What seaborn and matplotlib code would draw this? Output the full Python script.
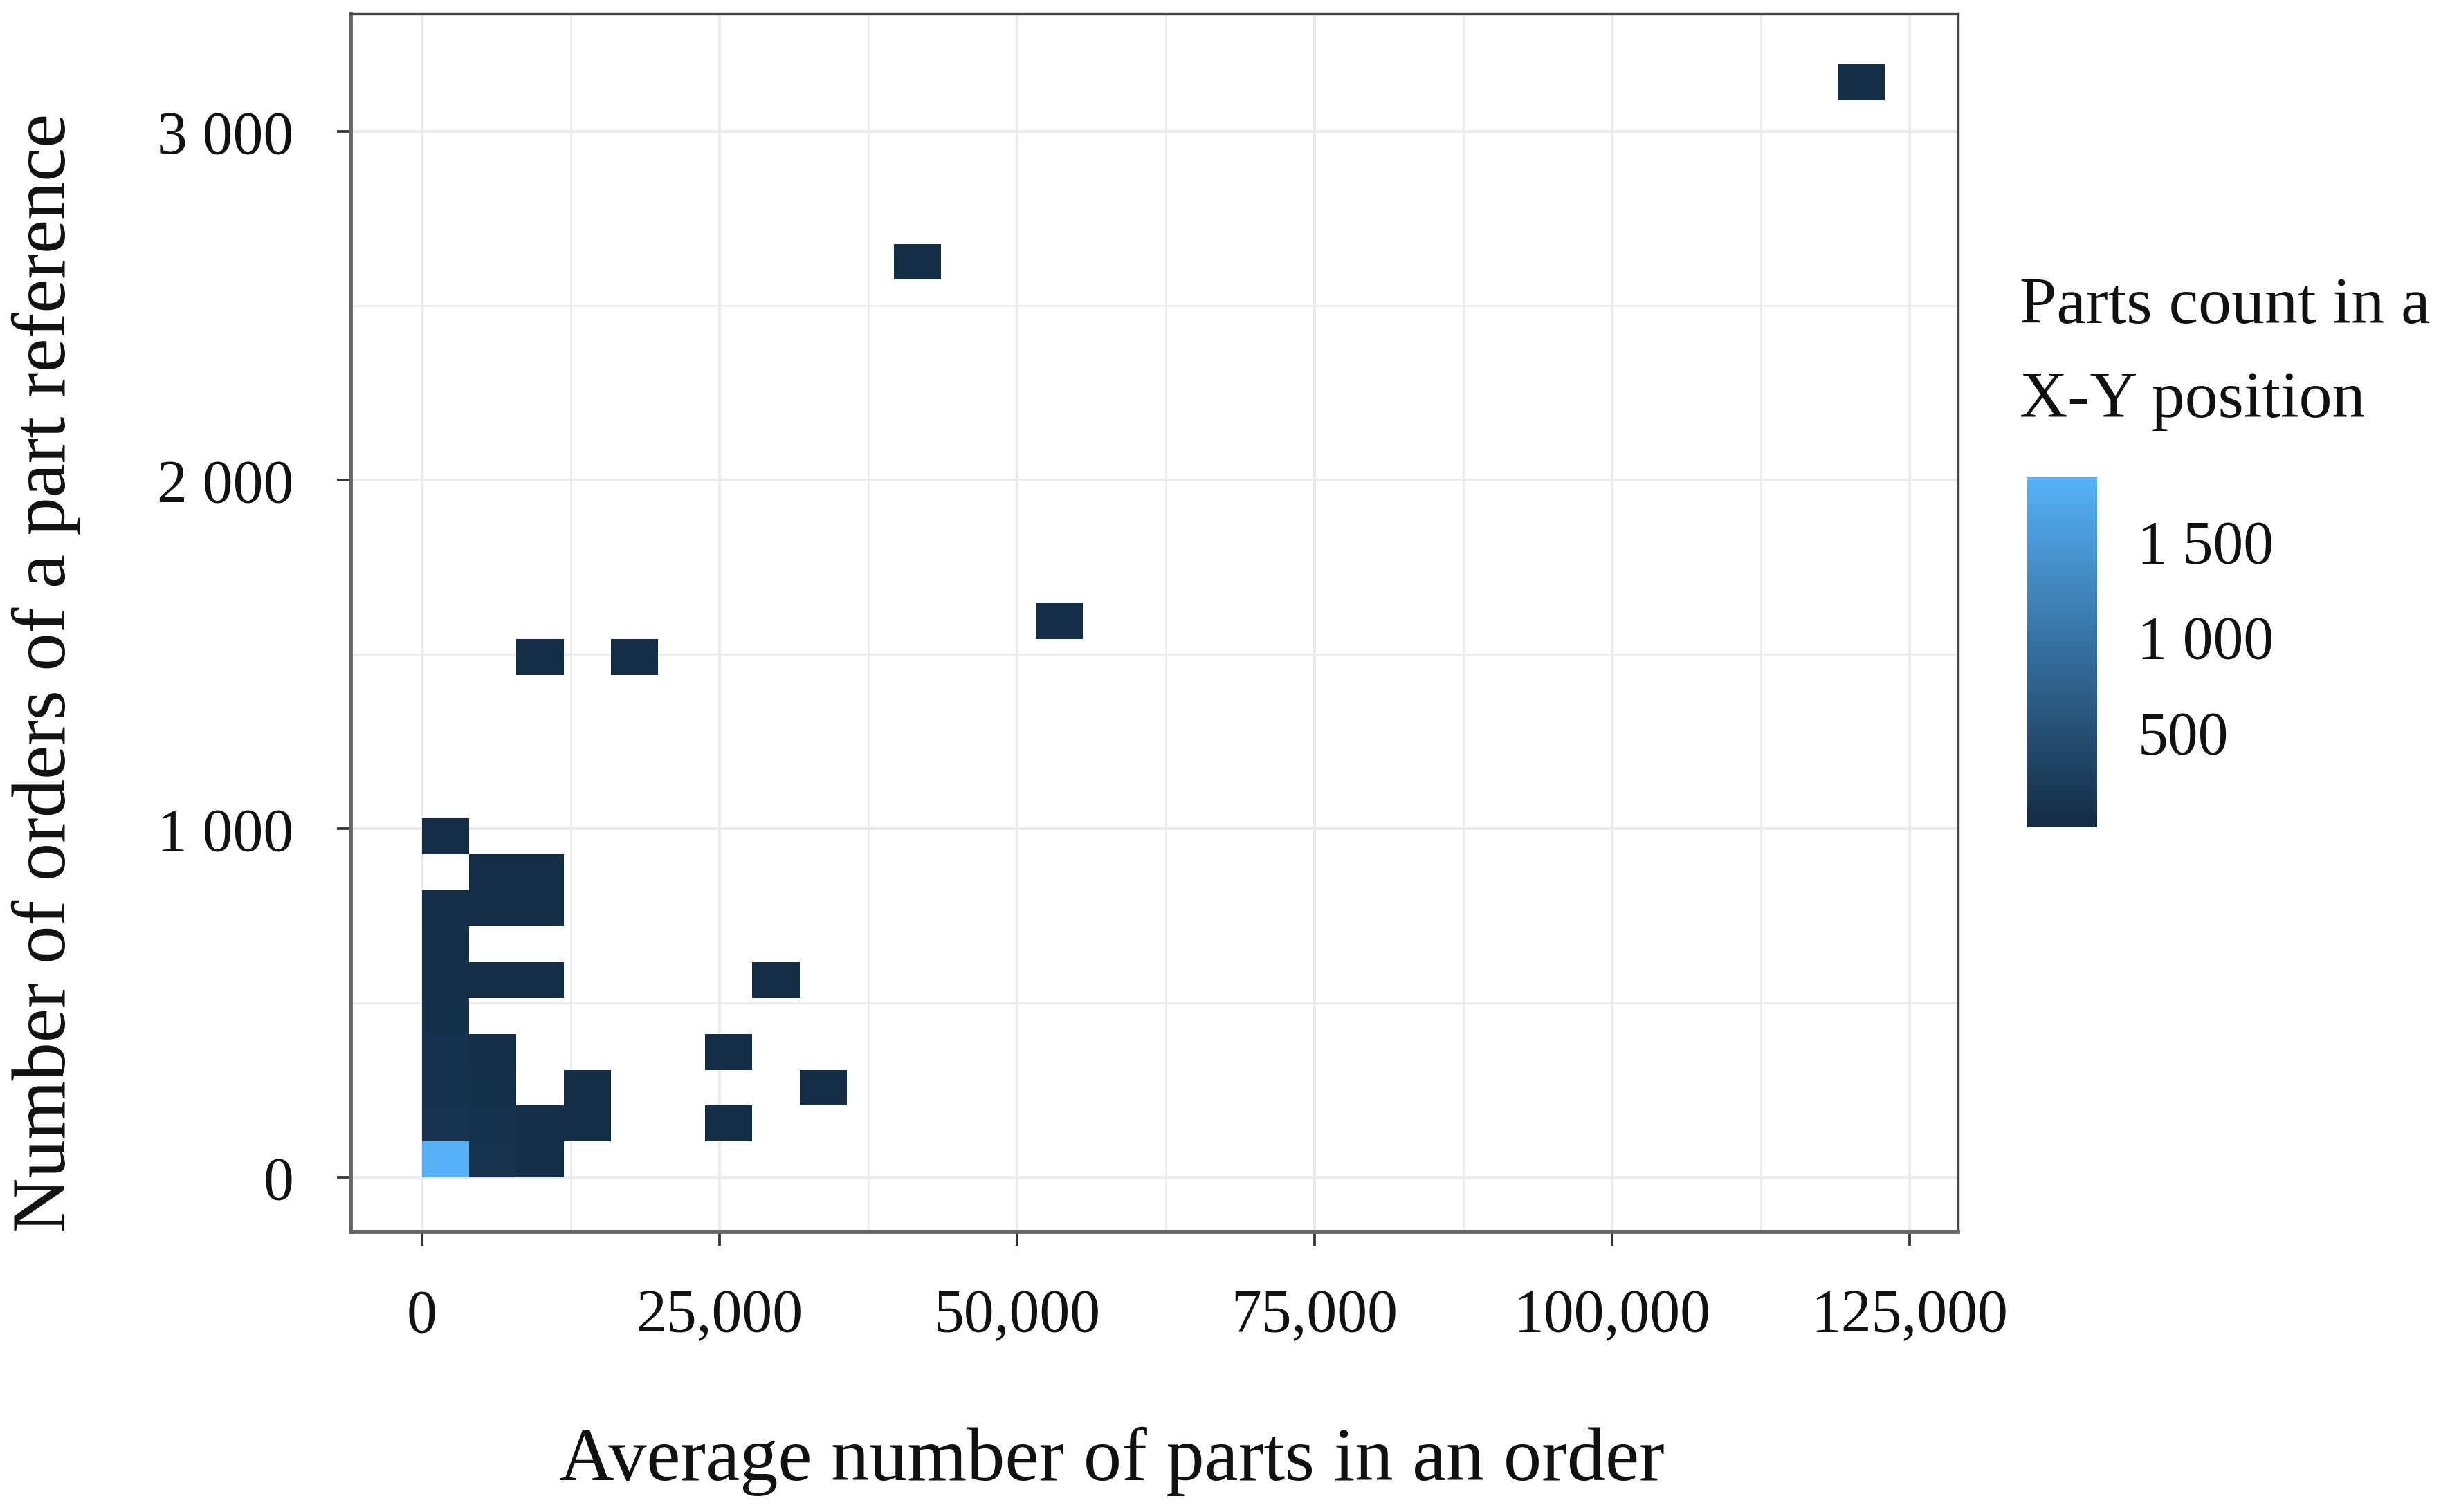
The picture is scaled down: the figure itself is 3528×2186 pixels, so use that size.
import numpy as np
import matplotlib.pyplot as plt
import seaborn as sns
from matplotlib.colors import LinearSegmentedColormap
from matplotlib.ticker import MultipleLocator

# Valores: cada celda = (promedio de piezas, numero de pedidos, conteo)
avg_parts = [2000, 6000, 9900,
             2000, 6000, 9900, 13900, 25800,
             2000, 6000, 13900, 33700,
             2000, 6000, 25800,
             2000,
             2000, 6000, 9900, 29700,
             2000,
             2000, 6000, 9900,
             6000, 9900,
             2000,
             9900, 17800,
             53500,
             41600,
             120900]
n_orders = [50, 50, 50,
            155, 155, 155, 155, 155,
            260, 260, 260, 260,
            360, 360, 360,
            465,
            565, 565, 565, 565,
            670,
            775, 775, 775,
            875, 875,
            980,
            1495, 1495,
            1595,
            2625,
            3140]
parts_count = [1835, 95, 60,
               110, 85, 55, 45, 40,
               90, 70, 42, 40,
               80, 55, 40,
               65,
               60, 48, 44, 40,
               52,
               48, 44, 42,
               43, 41,
               41,
               40, 40,
               40,
               40,
               40]

x_ticks = [0, 25000, 50000, 75000, 100000, 125000]
x_labels = ['0', '25,000', '50,000', '75,000', '100,000', '125,000']
y_ticks = [0, 1000, 2000, 3000]
y_labels = ['0', '1 000', '2 000', '3 000']
cbar_ticks = [500, 1000, 1500]
cbar_labels = ['500', '1 000', '1 500']

sns.set_style("white")
plt.rcParams['font.family'] = ['Liberation Serif', 'DejaVu Serif']

# degradado por defecto de ggplot
cmap = LinearSegmentedColormap.from_list('gg', ['#132B43', '#56B1F7'])

fig = plt.figure(figsize=(11.76, 7.2867), dpi=300)
ax = fig.add_axes([0.1437, 0.1853, 0.6585, 0.8056])
cax = fig.add_axes([0.8305, 0.4529, 0.0286, 0.2315])

bw_x, bw_y = 3965, 103
sns.histplot(x=avg_parts, y=n_orders, weights=parts_count,
             binwidth=(bw_x, bw_y), binrange=((0, 31 * bw_x), (0, 31 * bw_y)),
             cmap=cmap, cbar=True, cbar_ax=cax, ax=ax)

ax.set_xlim(-5990, 129070)
ax.set_ylim(-156, 3338)
ax.set_xticks(x_ticks)
ax.set_xticklabels(x_labels)
ax.set_yticks(y_ticks)
ax.set_yticklabels(y_labels)
ax.xaxis.set_minor_locator(MultipleLocator(12500))
ax.yaxis.set_minor_locator(MultipleLocator(500))
ax.grid(True, which='major', color='#EBEBEB', linewidth=1.0)
ax.grid(True, which='minor', color='#EBEBEB', linewidth=0.6)
ax.set_axisbelow(True)
ax.tick_params(axis='both', which='major', direction='out', length=4.8, width=0.9,
               color='#333333', labelsize=21, labelcolor='#111111', pad=15,
               bottom=True, left=True)
ax.tick_params(axis='both', which='minor', length=0)
for side in ['top', 'right']:
    ax.spines[side].set_color('#444444')
    ax.spines[side].set_linewidth(0.8)
for side in ['left', 'bottom']:
    ax.spines[side].set_color('#666666')
    ax.spines[side].set_linewidth(1.4)

ax.set_xlabel('Average number of parts in an order', fontsize=26.5, color='#111111')
ax.set_ylabel('Number of orders of a part reference', fontsize=26.5, color='#111111')
ax.xaxis.set_label_coords(0.4735, -0.16)
ax.yaxis.set_label_coords(-0.168, 0.459)

# barra de color estilo ggplot
cbar = ax.collections[0].colorbar
cbar.outline.set_visible(False)
cbar.set_ticks(cbar_ticks)
cbar.set_ticklabels(cbar_labels)
cax.tick_params(axis='y', direction='in', left=True, right=True, labelleft=False,
                labelright=True, color='white', length=4.4, width=1.0,
                labelsize=21, labelcolor='#111111', pad=14)
fig.text(0.8274, 0.797, 'Parts count in a', fontsize=23, va='center', ha='left', color='#111111')
fig.text(0.8274, 0.735, 'X-Y position', fontsize=23, va='center', ha='left', color='#111111')

plt.savefig('out.png', dpi=300)
